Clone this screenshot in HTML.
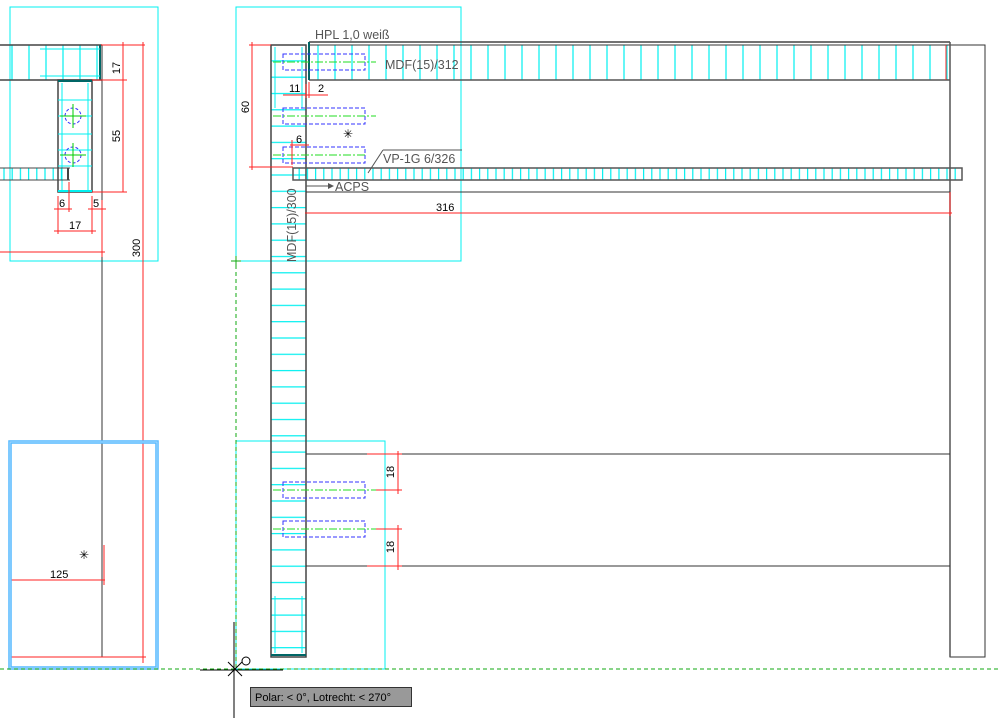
<!DOCTYPE html>
<html><head><meta charset="utf-8"><style>
html,body{margin:0;padding:0;background:#fff;width:998px;height:724px;overflow:hidden}
svg{display:block}
text{font-family:"Liberation Sans",sans-serif;}
</style></head><body>
<svg width="998" height="724" viewBox="0 0 998 724" xmlns="http://www.w3.org/2000/svg">
<defs>
<pattern id="vh" x="4" y="0" width="17" height="10" patternUnits="userSpaceOnUse"><line x1="8" y1="0" x2="8" y2="10" stroke="#00f0f0" stroke-width="1.2"/></pattern>
<pattern id="vs" x="0" y="0" width="8.2" height="10" patternUnits="userSpaceOnUse"><line x1="4" y1="0" x2="4" y2="10" stroke="#00f0f0" stroke-width="1.2"/></pattern>
<pattern id="hh" x="0" y="0" width="10" height="16.3" patternUnits="userSpaceOnUse"><line x1="0" y1="12" x2="10" y2="12" stroke="#00f0f0" stroke-width="1.2"/></pattern>
</defs>
<g fill="none">
<!-- LEFT VIEW -->
<rect x="10" y="7" width="148" height="254" stroke="#00f0f0"/>
<rect x="0" y="45" width="101" height="35" fill="url(#vh)"/>
<line x1="0" y1="45" x2="102" y2="45" stroke="#444" stroke-width="1.5"/>
<line x1="0" y1="80" x2="102" y2="80" stroke="#444" stroke-width="1.5"/>
<line x1="100" y1="45" x2="100" y2="80" stroke="#066" stroke-width="2"/>
<line x1="40" y1="49" x2="100" y2="49" stroke="#00f0f0"/>
<line x1="40" y1="76" x2="100" y2="76" stroke="#00f0f0"/>
<rect x="58" y="80" width="34" height="112" stroke="#444" stroke-width="1.5"/>
<line x1="58" y1="81" x2="92" y2="81" stroke="#066" stroke-width="2"/>
<line x1="58" y1="191" x2="92" y2="191" stroke="#00f0f0" stroke-width="2"/>
<g stroke="#00f0f0"><line x1="58" y1="100" x2="92" y2="100"/><line x1="58" y1="116" x2="92" y2="116"/><line x1="58" y1="134" x2="92" y2="134"/><line x1="58" y1="150" x2="92" y2="150"/><line x1="58" y1="166" x2="92" y2="166"/><line x1="62" y1="83" x2="62" y2="190"/><line x1="88" y1="83" x2="88" y2="190"/></g>
<circle cx="73" cy="116" r="8" stroke="#33f" stroke-dasharray="3,2"/>
<circle cx="73" cy="155" r="8" stroke="#33f" stroke-dasharray="3,2"/>
<line x1="60" y1="116" x2="86" y2="116" stroke="#0c0"/><line x1="73" y1="104" x2="73" y2="128" stroke="#0c0"/>
<line x1="60" y1="155" x2="86" y2="155" stroke="#0c0"/><line x1="73" y1="143" x2="73" y2="167" stroke="#0c0"/>
<rect x="0" y="168" width="66" height="12" fill="url(#vs)"/>
<line x1="0" y1="168" x2="70" y2="168" stroke="#444"/><line x1="0" y1="180" x2="70" y2="180" stroke="#444"/>
<line x1="68" y1="168" x2="68" y2="180" stroke="#444" stroke-width="2"/>
<line x1="102" y1="45" x2="102" y2="657" stroke="#333"/>
<line x1="92" y1="192" x2="102" y2="192" stroke="#444"/>
<g stroke="#f22">
<line x1="101" y1="45" x2="145" y2="45"/><line x1="123" y1="42" x2="123" y2="192"/><line x1="143" y1="42" x2="143" y2="663"/>
<line x1="92" y1="80" x2="127" y2="80"/><line x1="92" y1="192" x2="127" y2="192"/>
<line x1="58" y1="196" x2="58" y2="234"/><line x1="69" y1="182" x2="69" y2="212"/><line x1="92" y1="196" x2="92" y2="234"/><line x1="102" y1="200" x2="102" y2="257"/>
<line x1="54" y1="209" x2="72" y2="209"/><line x1="88" y1="209" x2="106" y2="209"/><line x1="54" y1="231" x2="96" y2="231"/>
<line x1="0" y1="252" x2="105" y2="252"/>
<line x1="10" y1="580" x2="105" y2="580"/><line x1="104" y1="545" x2="104" y2="585"/>
<line x1="10" y1="657" x2="146" y2="657"/>
</g>
<g fill="#000" font-size="11">
<text x="0" y="0" transform="translate(120,68) rotate(-90)" text-anchor="middle">17</text>
<text x="0" y="0" transform="translate(120,136) rotate(-90)" text-anchor="middle">55</text>
<text x="0" y="0" transform="translate(140,248) rotate(-90)" text-anchor="middle">300</text>
<text x="59" y="207">6</text><text x="93" y="207">5</text><text x="69" y="229">17</text>
<text x="50" y="578">125</text>
<text x="79" y="559" font-size="12">✳</text>
</g>
<rect x="10" y="442" width="147" height="226" stroke="#55b8ff" stroke-width="3.5"/>
<rect x="10" y="442" width="147" height="226" stroke="#a8dcff" stroke-width="1"/>

<!-- RIGHT VIEW -->
<rect x="236" y="7" width="225" height="254" stroke="#00f0f0"/>
<rect x="236" y="441" width="149" height="228" stroke="#00f0f0"/>
<rect x="271" y="45" width="35" height="612" fill="url(#hh)"/>
<rect x="271" y="45" width="35" height="612" stroke="#444" stroke-width="1.5"/>
<line x1="271" y1="655" x2="306" y2="655" stroke="#066" stroke-width="2"/>
<g stroke="#00f0f0"><line x1="275" y1="47" x2="275" y2="108"/><line x1="302" y1="47" x2="302" y2="108"/><line x1="275" y1="596" x2="275" y2="653"/><line x1="302" y1="596" x2="302" y2="653"/></g>
<rect x="309" y="45" width="641" height="35" fill="url(#vh)"/>
<line x1="309" y1="42" x2="950" y2="42" stroke="#444" stroke-width="1.5"/>
<line x1="309" y1="45" x2="950" y2="45" stroke="#333"/>
<line x1="309" y1="80" x2="950" y2="80" stroke="#555" stroke-width="1.5"/>
<line x1="309" y1="42" x2="309" y2="80" stroke="#066" stroke-width="2"/>
<line x1="946" y1="45" x2="946" y2="80" stroke="#f22"/>
<rect x="950" y="45" width="35" height="612" stroke="#333"/>
<line x1="950" y1="42" x2="950" y2="657" stroke="#555" stroke-width="1.5"/>
<rect x="295" y="168" width="664" height="12" fill="url(#vs)"/>
<rect x="293" y="168" width="669" height="12" stroke="#555" stroke-width="1.5"/>
<line x1="306" y1="192" x2="950" y2="192" stroke="#333"/>
<line x1="306" y1="454" x2="950" y2="454" stroke="#333"/>
<line x1="306" y1="566" x2="950" y2="566" stroke="#333"/>
<!-- dowels -->
<g stroke="#33f" stroke-dasharray="4,2">
<rect x="283" y="54" width="82" height="16"/><rect x="283" y="108" width="82" height="16"/><rect x="283" y="147" width="82" height="16"/>
<rect x="283" y="482" width="82" height="16"/><rect x="283" y="521" width="82" height="16"/>
</g>
<g stroke="#2d2" stroke-dasharray="8,2,2,2">
<line x1="273" y1="62" x2="376" y2="62"/><line x1="273" y1="116" x2="376" y2="116"/><line x1="273" y1="155" x2="365" y2="155"/>
<line x1="273" y1="490" x2="376" y2="490"/><line x1="273" y1="529" x2="376" y2="529"/>
</g>
<g stroke="#f22">
<line x1="249" y1="45" x2="271" y2="45"/><line x1="252" y1="42" x2="252" y2="170"/><line x1="249" y1="167" x2="293" y2="167"/>
<line x1="283" y1="95" x2="328" y2="95"/><line x1="306" y1="84" x2="306" y2="98"/><line x1="309" y1="82" x2="309" y2="98"/>
<line x1="290" y1="145" x2="309" y2="145"/><line x1="292" y1="140" x2="292" y2="165"/>
<line x1="305" y1="213" x2="952" y2="213"/><line x1="950" y1="192" x2="950" y2="216"/>
<line x1="367" y1="454" x2="402" y2="454"/><line x1="376" y1="490" x2="402" y2="490"/><line x1="398" y1="451" x2="398" y2="494"/>
<line x1="376" y1="529" x2="402" y2="529"/><line x1="367" y1="566" x2="402" y2="566"/><line x1="398" y1="525" x2="398" y2="570"/>
</g>
<g stroke="#555">
<line x1="383" y1="150" x2="462" y2="150"/><line x1="383" y1="150" x2="368" y2="173"/>
<line x1="310" y1="45" x2="393" y2="45" stroke="#333"/>
<line x1="306" y1="186" x2="328" y2="186"/>
</g>
<polygon points="328,183 334,186 328,189" fill="#555"/>
<g fill="#555" font-size="12.5">
<text x="315" y="39">HPL 1,0 weiß</text>
<text x="385" y="69">MDF(15)/312</text>
<text x="383" y="163">VP-1G 6/326</text>
<text x="335" y="191">ACPS</text>
<text x="0" y="0" transform="translate(296,262) rotate(-90)">MDF(15)/300</text>
</g>
<g fill="#000" font-size="11">
<text x="0" y="0" transform="translate(249,107) rotate(-90)" text-anchor="middle">60</text>
<text x="289" y="92">11</text><text x="318" y="92">2</text><text x="296" y="143">6</text>
<text x="436" y="211">316</text>
<text x="0" y="0" transform="translate(394,472) rotate(-90)" text-anchor="middle">18</text>
<text x="0" y="0" transform="translate(394,547) rotate(-90)" text-anchor="middle">18</text>
<text x="343" y="138" font-size="12">✳</text>
</g>
<!-- guides and cursor -->
<line x1="236" y1="258" x2="236" y2="669" stroke="#1a1" stroke-dasharray="4,3"/>
<line x1="0" y1="669" x2="998" y2="669" stroke="#1a1" stroke-dasharray="4,3"/>
<line x1="231" y1="261" x2="241" y2="261" stroke="#1a1"/><line x1="236" y1="256" x2="236" y2="266" stroke="#1a1"/>
<line x1="234" y1="622" x2="234" y2="718" stroke="#000"/>
<line x1="200" y1="670" x2="283" y2="670" stroke="#000"/>
<line x1="228" y1="662" x2="242" y2="676" stroke="#000"/><line x1="242" y1="662" x2="228" y2="676" stroke="#000"/>
<circle cx="246" cy="661" r="4" stroke="#000"/>
</g>
<rect x="250.5" y="687.5" width="161" height="19" fill="#999" stroke="#333"/>
<text x="255" y="701" font-size="11" fill="#000">Polar: &lt; 0°,  Lotrecht: &lt; 270°</text>
</svg>
</body></html>
